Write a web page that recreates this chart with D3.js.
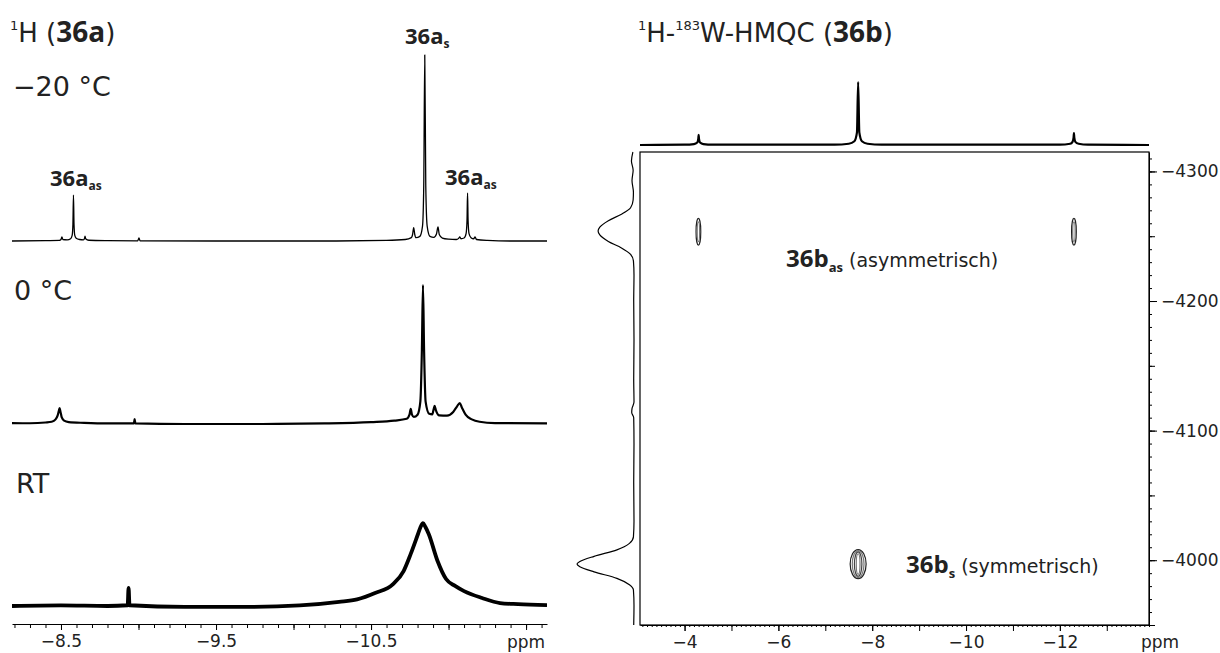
<!DOCTYPE html>
<html><head><meta charset="utf-8">
<script src="https://cdn.jsdelivr.net/npm/d3@7"></script>
<style>
body{margin:0;background:#fff}
svg{display:block}
text{font-family:"DejaVu Sans",Verdana,sans-serif;fill:#222}
.cmp{font-family:"Open Sans","Noto Sans",sans-serif;font-weight:bold}
</style>
</head><body>
<svg id="c" width="1220" height="653"></svg>
<script>
// ---------- DATA (ppm, intensity) ----------
// 1H spectra of 36a, intensity in units where 100 = tallest peak (36a_s at -20 °C)
const spectrumMinus20 = [
 [-8.184,0],[-8.40,0.2],[-8.49,0.3],[-8.500,0.8],[-8.506,2.2],[-8.512,0.8],[-8.54,0.6],
 [-8.562,1.2],[-8.572,3],[-8.577,9],[-8.5805,24.7],[-8.584,9],[-8.589,3],[-8.598,1.5],
 [-8.62,0.8],[-8.645,0.6],[-8.652,1.5],[-8.655,2.6],[-8.659,1.2],[-8.68,0.4],[-8.80,0.2],
 [-8.995,0.1],[-9.003,1.6],[-9.01,0.1],[-9.5,0],[-10.2,0],[-10.6,0.3],[-10.72,0.8],
 [-10.76,1.8],[-10.768,3.5],[-10.775,7.2],[-10.782,3.5],[-10.79,1.8],[-10.815,2.5],
 [-10.832,8],[-10.840,30],[-10.8465,100],[-10.853,30],[-10.862,8],[-10.88,2.5],
 [-10.905,2],[-10.922,3.8],[-10.932,7.6],[-10.94,3.5],[-10.96,1.6],[-11.0,1],[-11.05,0.8],
 [-11.065,1.4],[-11.072,2.2],[-11.08,1.2],[-11.1,1.6],[-11.113,4],[-11.119,11],
 [-11.1225,25.8],[-11.126,11],[-11.132,4],[-11.145,1.8],[-11.162,1.2],[-11.171,2.2],
 [-11.18,0.8],[-11.25,0.3],[-11.4,0],[-11.635,0]
];
const spectrum0 = [
 [-8.184,0.5],[-8.30,0.4],[-8.40,0.8],[-8.44,1.2],[-8.465,2.5],[-8.478,4.5],[-8.486,7],
 [-8.491,8.6],[-8.497,6.5],[-8.505,3.5],[-8.52,1.8],[-8.55,1],[-8.65,0.6],[-8.80,0.3],
 [-8.97,0.3],[-8.975,2.6],[-8.98,0.3],[-9.3,0],[-9.8,0],[-10.2,0.3],[-10.5,1],[-10.65,1.8],
 [-10.73,2.8],[-10.748,5],[-10.756,8.2],[-10.764,5],[-10.776,3.8],[-10.80,5],[-10.818,12],
 [-10.828,40],[-10.835,74.7],[-10.842,40],[-10.852,12],[-10.875,5.5],[-10.895,5.2],
 [-10.904,8],[-10.910,9.7],[-10.918,7.5],[-10.94,4.6],[-10.99,4.5],[-11.03,6.5],
 [-11.055,9.5],[-11.072,11.3],[-11.085,9],[-11.11,5],[-11.15,2.5],[-11.2,1.2],[-11.3,0.5],
 [-11.635,0.3]
];
const spectrumRT = [
 [-8.184,0],[-8.5,0.3],[-8.8,0],[-8.930,0.4],[-8.936,9.7],[-8.942,0.4],[-9.3,-0.5],
 [-9.7,-0.5],[-10.04,0.3],[-10.294,2.2],[-10.41,3.6],[-10.526,7],[-10.642,11.8],
 [-10.71,18.8],[-10.756,28],[-10.803,38.7],[-10.82,42.6],[-10.835,44.6],[-10.85,42.6],
 [-10.872,38.7],[-10.929,24.2],
 [-10.984,14.5],[-11.042,10.8],[-11.1,8],[-11.216,4.3],[-11.332,1.6],[-11.448,1],[-11.635,0.5]
];
// 1H-183W-HMQC of 36b
const projectionH = [
 [-3.05,0],[-4.0,0.5],[-4.2,1.5],[-4.27,4],[-4.293,10],[-4.30,16],[-4.307,10],[-4.33,4],
 [-4.4,1.5],[-4.6,0.5],[-7.2,0.5],[-7.5,2],[-7.62,6],[-7.675,20],[-7.70,100],[-7.725,20],
 [-7.78,6],[-7.9,2],[-8.2,0.5],[-12.0,0.5],[-12.22,2],[-12.27,5],[-12.293,12],[-12.30,19],
 [-12.307,12],[-12.33,5],[-12.4,2],[-12.6,0.5],[-13.9,0]
];
const projectionW = [
 [-4315,2],[-4308,4.5],[-4301,1.5],[-4293,3.5],[-4284,1],[-4278,1.5],[-4272,6],[-4267,22],
 [-4262,45],[-4257,60],[-4254,63],[-4251,60],[-4246,45],[-4241,22],[-4236,6],[-4231,1],
 [-4220,0],[-4200,0.5],[-4170,0],[-4140,0.5],[-4122,0],[-4117,3.5],[-4114,4],[-4110,0.5],
 [-4090,0],[-4060,0.5],[-4030,0],[-4018,1],[-4013,8],[-4008,30],[-4003,70],[-3999,95],
 [-3997,100],[-3995,95],[-3991,70],[-3986,30],[-3981,8],[-3977,1],[-3965,0],[-3950,0.5]
];
const crossPeakH = [-4.295, -12.30, -7.70];
const crossPeakW = [-4253.5, -4253.5, -3997];
// contour levels per cross peak: [half-width in 1H ppm, half-height in 183W ppm]
const crossPeakContours = [
 [[0.050,10.3],[0.026,7.6]],
 [[0.050,10.3],[0.026,7.6]],
 [[0.17,11.2],[0.125,10.4],[0.08,9.4],[0.04,8]]
];
const leftTickLabels = [-8.5,-9.5,-10.5];
const rightXTickLabels = [-4,-6,-8,-10,-12];
const rightYTickLabels = [-4300,-4200,-4100,-4000];

// ---------- DRAW ----------
const svg = d3.select("#c");
const fmt = (d, p) => "\u2212" + Math.abs(d).toFixed(p);

// Left panel: 1H spectra
const x1 = d3.scaleLinear().domain([-8.184, -11.635]).range([12, 547]);
const traces = [
 {data: spectrumMinus20, base: 241, sw: 1.3},
 {data: spectrum0, base: 424, sw: 2.2},
 {data: spectrumRT, base: 606, sw: 3.8}
];
traces.forEach(t => {
  const y = d3.scaleLinear().domain([0,100]).range([t.base, t.base-186]);
  const line = d3.line().x(d=>x1(d[0])).y(d=>y(d[1])).curve(d3.curveMonotoneX);
  svg.append("path").attr("d", line(t.data)).attr("fill","none")
    .attr("stroke","#000").attr("stroke-width",t.sw).attr("stroke-linejoin","round");
});

const gL = svg.append("g").attr("transform","translate(0,624)");
const minorL = d3.range(82,117).map(i=>-i/10);
const halfL = d3.range(17,24).map(i=>-i/2);
gL.append("g").call(d3.axisBottom(x1).tickValues(minorL).tickSize(4).tickSizeOuter(0).tickFormat(""));
gL.append("g").call(d3.axisBottom(x1).tickValues(halfL).tickSize(6).tickFormat("")).select(".domain").remove();
gL.append("g").call(d3.axisBottom(x1).tickValues(leftTickLabels).tickSize(6).tickPadding(5).tickFormat(d=>fmt(d,1))).select(".domain").remove();
gL.selectAll("text").attr("font-size",17).attr("font-family","DejaVu Sans, sans-serif").attr("fill","#222");
gL.selectAll("path,line").attr("stroke","#000");
svg.append("text").attr("x",526).attr("y",648).attr("text-anchor","middle").attr("font-size",17).text("ppm");

// Left panel labels
const t1 = svg.append("text").attr("x",10).attr("y",42).attr("font-size",26);
t1.append("tspan").attr("font-size",13).attr("dy",-12).text("1");
t1.append("tspan").attr("dy",12).text("H (");
t1.append("tspan").attr("class","cmp").attr("font-size",28).text("36a");
t1.append("tspan").text(")");
svg.append("text").attr("x",13).attr("y",96).attr("font-size",27).text("\u221220 \u00b0C");
svg.append("text").attr("x",14).attr("y",300).attr("font-size",27).text("0 \u00b0C");
svg.append("text").attr("x",16).attr("y",493).attr("font-size",27).text("RT");
function compLabel(x, y, sub){
  const t = svg.append("text").attr("class","cmp").attr("x",x).attr("y",y).attr("font-size",22);
  t.append("tspan").text("36a");
  t.append("tspan").attr("font-size",12).attr("dy",4).text(sub);
  return t;
}
compLabel(50,186,"as");
compLabel(405,44,"s");
compLabel(445,185,"as");

// Right panel: HMQC
const x2 = d3.scaleLinear().domain([-3.05, -13.9]).range([640, 1149]);
const y2 = d3.scaleLinear().domain([-4315, -3950]).range([152, 625]);

// top projection
const yTop = d3.scaleLinear().domain([0,100]).range([145, 82]);
svg.append("path").attr("d", d3.line().x(d=>x2(d[0])).y(d=>yTop(d[1])).curve(d3.curveMonotoneX)(projectionH))
  .attr("fill","none").attr("stroke","#000").attr("stroke-width",2.2).attr("stroke-linejoin","round");
// left projection
const xSide = d3.scaleLinear().domain([0,100]).range([634, 577]);
svg.append("path").attr("d", d3.line().y(d=>y2(d[0])).x(d=>xSide(d[1])).curve(d3.curveMonotoneY)(projectionW))
  .attr("fill","none").attr("stroke","#000").attr("stroke-width",1.2);

// box
svg.append("rect").attr("x",640).attr("y",152).attr("width",509).attr("height",473)
  .attr("fill","none").attr("stroke","#000").attr("stroke-width",1.2);

// contours
crossPeakH.forEach((h,i)=>{
  const w = crossPeakW[i];
  crossPeakContours[i].forEach((lv,j)=>{
    svg.append("ellipse").attr("cx",x2(h)).attr("cy",y2(w))
      .attr("rx",Math.abs(x2(h+lv[0])-x2(h))).attr("ry",Math.abs(y2(w+lv[1])-y2(w)))
      .attr("fill","none").attr("stroke", j===0 ? "#222" : (j%2 ? "#777" : "#444")).attr("stroke-width",1.2);
  });
});

// bottom axis
const gB = svg.append("g").attr("transform","translate(0,625)");
const minorB = d3.range(31,140).map(i=>-i/10);
const majorB = d3.range(4,14).map(i=>-i);
gB.append("g").call(d3.axisBottom(x2).tickValues(minorB).tickSize(2).tickSizeOuter(0).tickFormat(""));
gB.append("g").call(d3.axisBottom(x2).tickValues(majorB).tickSize(6).tickFormat("")).select(".domain").remove();
gB.append("g").call(d3.axisBottom(x2).tickValues(rightXTickLabels).tickSize(6).tickPadding(5).tickFormat(d=>fmt(d,0))).select(".domain").remove();
gB.selectAll("text").attr("font-size",17).attr("font-family","DejaVu Sans, sans-serif").attr("fill","#222");
gB.selectAll("path,line").attr("stroke","#000");
svg.append("text").attr("x",1160).attr("y",648).attr("text-anchor","middle").attr("font-size",17).text("ppm");

// right axis
const gR = svg.append("g").attr("transform","translate(1149,0)");
const minorR = d3.range(-4310,-3950,10);
const halfR = d3.range(-4300,-3940,50);
gR.append("g").call(d3.axisRight(y2).tickValues(minorR).tickSize(3).tickSizeOuter(0).tickFormat(""));
gR.append("g").call(d3.axisRight(y2).tickValues(halfR).tickSize(6).tickFormat("")).select(".domain").remove();
gR.append("g").call(d3.axisRight(y2).tickValues(rightYTickLabels).tickSize(8).tickPadding(4).tickFormat(d=>fmt(d,0))).select(".domain").remove();
gR.selectAll("text").attr("font-size",17).attr("font-family","DejaVu Sans, sans-serif").attr("fill","#222");
gR.selectAll("path,line").attr("stroke","#000");

// right title
const t2 = svg.append("text").attr("x",638).attr("y",42).attr("font-size",26);
t2.append("tspan").attr("font-size",13).attr("dy",-12).text("1");
t2.append("tspan").attr("dy",12).text("H-");
t2.append("tspan").attr("font-size",13).attr("dy",-12).text("183");
t2.append("tspan").attr("dy",12).text("W-HMQC (");
t2.append("tspan").attr("class","cmp").attr("font-size",28).text("36b");
t2.append("tspan").text(")");

// cross peak labels
function bLabel(x, y, sub, rest){
  const t = svg.append("text").attr("x",x).attr("y",y).attr("font-size",19);
  t.append("tspan").attr("class","cmp").attr("font-size",24).text("36b");
  t.append("tspan").attr("class","cmp").attr("font-size",13).attr("dy",5).text(sub);
  t.append("tspan").attr("dy",-5).text(" " + rest);
}
bLabel(786,267,"as","(asymmetrisch)");
bLabel(906,573,"s","(symmetrisch)");
</script>
</body></html>
